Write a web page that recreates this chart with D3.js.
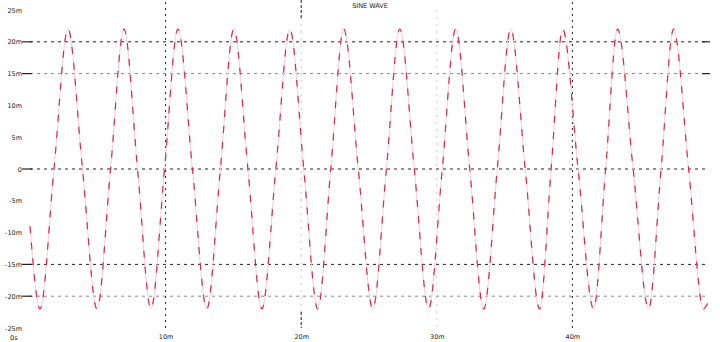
<!DOCTYPE html>
<html>
<head>
<meta charset="utf-8">
<script src="https://cdn.jsdelivr.net/npm/d3@7"></script>
<style>
  html, body { margin: 0; padding: 0; background: #fff; }
  svg { display: block; font-family: 'DejaVu Sans', sans-serif; }
</style>
</head>
<body>
<div id="chart"></div>
<script>
// time (ms) and voltage (mV): troughs, zero crossings, peaks
const timeMs = [0, 0.74, 1.77, 2.80, 3.87, 4.94, 5.94, 6.93, 7.93, 8.92, 9.92, 10.91, 11.98,
  13.04, 14.04, 15.03, 16.07, 17.10, 18.13, 19.16, 20.19, 21.22, 22.18, 23.14, 24.21,
  25.28, 26.28, 27.27, 28.34, 29.40, 30.40, 31.39, 32.43, 33.46, 34.46, 35.45, 36.52,
  37.58, 38.43, 39.28, 40.42, 41.56, 42.45, 43.33, 44.48, 45.62, 46.54, 47.46, 48.57,
  49.67, 50];
const voltMv = [-9, -22, 0, 22, 0, -22, 0, 22, 0, -22, 0, 22, 0,
  -22, 0, 22, 0, -22, 0, 22, 0, -22, 0, 22, 0,
  -22, 0, 22, 0, -22, 0, 22, 0, -22, 0, 22, 0,
  -22, 0, 22, 0, -22, 0, 22, 0, -22, 0, 22, 0,
  -22, -21];

const yTicks = [25, 20, 15, 10, 5, 0, -5, -10, -15, -20, -25];
const yTickLabels = ['25m', '20m', '15m', '10m', '5m', '0', '-5m', '-10m', '-15m', '-20m', '-25m'];
const yGridDark = [20, 0, -15];
const yGridLight = [15, -20];
const xTicks = [0, 10, 20, 30, 40, 50];
const xTickLabels = ['0', '10m', '20m', '30m', '40m', '50m'];
const xGridDark = [10, 40];
const xGridLight = [20, 30];
const title = 'SINE WAVE';

const totalWidth = 720;
const totalHeight = 342;
const margin = { top: 10, right: 10, bottom: 14, left: 30 };
const fontColour = '#222';

const svg = d3.select('#chart')
  .append('svg')
  .attr('width', totalWidth)
  .attr('height', totalHeight);

const x = d3.scaleLinear()
  .domain([0, 50])
  .range([margin.left, totalWidth - margin.right - 2]);

const y = d3.scaleLinear()
  .domain([-25, 25])
  .range([totalHeight - margin.bottom, margin.top]);

// horizontal grid
svg.append('g')
  .selectAll('line')
  .data(yGridLight)
  .join('line')
  .attr('x1', x(0)).attr('x2', x(50))
  .attr('y1', d => y(d)).attr('y2', d => y(d))
  .attr('stroke', '#888')
  .attr('stroke-dasharray', '3,4');

svg.append('g')
  .selectAll('line')
  .data(yGridDark)
  .join('line')
  .attr('x1', x(0)).attr('x2', x(50))
  .attr('y1', d => y(d)).attr('y2', d => y(d))
  .attr('stroke', '#222')
  .attr('stroke-dasharray', '3,4');

// vertical grid
svg.append('g')
  .selectAll('line')
  .data(xGridLight)
  .join('line')
  .attr('x1', d => x(d)).attr('x2', d => x(d))
  .attr('y1', y(25)).attr('y2', y(-25))
  .attr('stroke', '#ccc')
  .attr('stroke-dasharray', '2,5');

svg.append('g')
  .selectAll('line')
  .data(xGridDark)
  .join('line')
  .attr('x1', d => x(d)).attr('x2', d => x(d))
  .attr('y1', 2).attr('y2', y(-25) + 2)
  .attr('stroke', '#222')
  .attr('stroke-dasharray', '2,4');

// y axis labels and short ticks on the gridded levels
const yAxis = svg.append('g')
  .attr('transform', 'translate(' + margin.left + ',0)')
  .call(d3.axisLeft(y)
    .tickValues(yTicks)
    .tickSize(0)
    .tickPadding(8)
    .tickFormat((d, i) => yTickLabels[i]));
yAxis.select('.domain').remove();
yAxis.selectAll('text')
  .attr('fill', fontColour)
  .attr('font-size', 6.5)
  .attr('font-family', 'DejaVu Sans');

svg.append('g')
  .selectAll('line')
  .data(yGridDark.concat(yGridLight))
  .join('line')
  .attr('x1', margin.left - 8).attr('x2', margin.left + 2)
  .attr('y1', d => y(d)).attr('y2', d => y(d))
  .attr('stroke', '#222')
  .attr('stroke-width', 1.2);

svg.append('g')
  .selectAll('line')
  .data([20, 15])
  .join('line')
  .attr('x1', x(50) - 6).attr('x2', x(50) + 2)
  .attr('y1', d => y(d)).attr('y2', d => y(d))
  .attr('stroke', '#222')
  .attr('stroke-width', 1.2);

// x axis labels
const xAxis = svg.append('g')
  .attr('transform', 'translate(0,' + (totalHeight - 8) + ')')
  .call(d3.axisBottom(x)
    .tickValues(xTicks.slice(1, 5))
    .tickSize(0)
    .tickPadding(0)
    .tickFormat((d, i) => xTickLabels[i + 1]));
xAxis.select('.domain').remove();
xAxis.selectAll('text')
  .attr('fill', fontColour)
  .attr('font-size', 6.5)
  .attr('font-family', 'DejaVu Sans');

svg.append('text')
  .attr('x', 10)
  .attr('y', totalHeight - 2)
  .attr('fill', fontColour)
  .attr('font-size', 6.5)
  .text(xTickLabels[0] + 's');

// markers at 20m on top and bottom
svg.append('g')
  .selectAll('line')
  .data([[0, 20], [y(-25) - 16, y(-25)]])
  .join('line')
  .attr('x1', x(20)).attr('x2', x(20))
  .attr('y1', d => d[0]).attr('y2', d => d[1])
  .attr('stroke', '#222')
  .attr('stroke-dasharray', '3,2');

// title
svg.append('text')
  .attr('x', 370)
  .attr('y', 8)
  .attr('text-anchor', 'middle')
  .attr('fill', fontColour)
  .attr('font-size', 6.5)
  .text(title);

// the trace
const points = timeMs.map((t, i) => ({ t: t, v: voltMv[i] }));
const line = d3.line()
  .curve(d3.curveMonotoneX)
  .x(d => x(d.t))
  .y(d => y(d.v));

svg.append('path')
  .datum(points)
  .attr('fill', 'none')
  .attr('stroke', '#f8cdd5')
  .attr('stroke-width', 1)
  .attr('d', line);

svg.append('path')
  .datum(points)
  .attr('fill', 'none')
  .attr('stroke', '#dc2842')
  .attr('stroke-width', 1.2)
  .attr('stroke-dasharray', '7,9')
  .attr('d', line);
</script>
</body>
</html>
